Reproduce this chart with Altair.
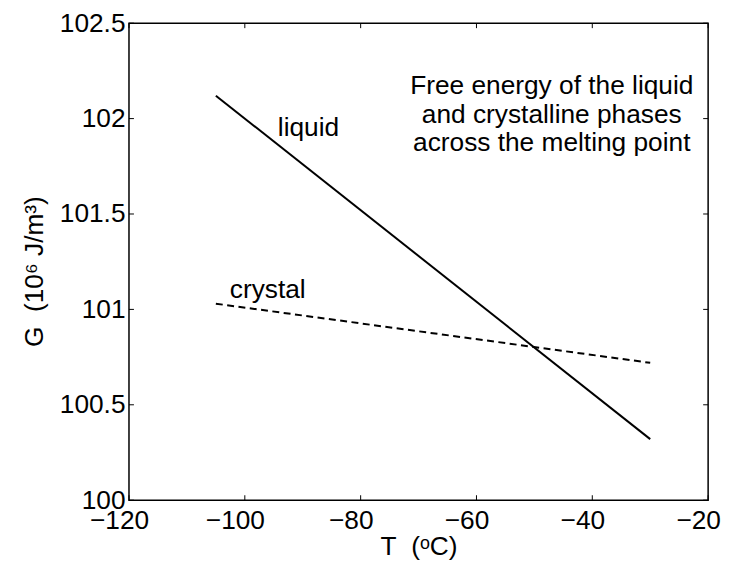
import altair as alt
import pandas as pd

# Data
T_liquid = [-105, -30]
G_liquid = [102.12, 100.32]
T_crystal = [-105, -30]
G_crystal = [101.03, 100.72]

label_text = ["liquid", "crystal"]
label_T = [-94.3, -102.6]
label_G = [101.91, 101.06]

note_text = ["Free energy of the liquid", "and crystalline phases", "across the melting point"]
note_T = [-47.0]
note_G = [102.13]

x_ticks = [-120, -100, -80, -60, -40, -20]
y_ticks = [100, 100.5, 101, 101.5, 102, 102.5]

x_title = "T\u00a0\u00a0(ᵒC)"
y_title = "G\u00a0\u00a0(10⁶ J/m³)"

FONT = "Liberation Sans"
FS = 26.5
W, H = 584, 481

liq = pd.DataFrame({"T": T_liquid, "G": G_liquid})
cry = pd.DataFrame({"T": T_crystal, "G": G_crystal})
lab = pd.DataFrame({"T": label_T, "G": label_G, "t": label_text})
note = pd.DataFrame({"T": note_T, "G": note_G, "t": [note_text]})
xt = pd.DataFrame({"T": x_ticks})
yt = pd.DataFrame({"G": y_ticks})

xscale = alt.Scale(domain=[-120, -20], nice=False, zero=False)
yscale = alt.Scale(domain=[100, 102.5], nice=False, zero=False)

xaxis = alt.Axis(values=x_ticks, format="d", grid=False, domain=False, ticks=False,
                 labelPadding=8, tickOffset=-10, labelFlush=False, labelOverlap=False,
                 title=x_title, titleY=55, titleBaseline="alphabetic",
                 titleFontWeight="normal")
yaxis = alt.Axis(values=y_ticks, format=".1~f", grid=False, domain=False, ticks=False,
                 labelPadding=4, labelFlush=False, labelOverlap=False,
                 title=y_title, titleX=-87, titleY=250,
                 titleBaseline="alphabetic", titleAlign="center", titleAngle=270,
                 titleFontWeight="normal")

X = alt.X("T:Q", scale=xscale, axis=xaxis)
Y = alt.Y("G:Q", scale=yscale, axis=yaxis)

line_liq = alt.Chart(liq).mark_line(color="black", strokeWidth=2).encode(x=X, y=Y)
line_cry = alt.Chart(cry).mark_line(color="black", strokeWidth=2,
                                    strokeDash=[7, 4.5]).encode(x=X, y=Y)
labels = alt.Chart(lab).mark_text(font=FONT, fontSize=FS, align="left",
                                  baseline="alphabetic", color="black").encode(
    x=X, y=Y, text="t:N")
notes = alt.Chart(note).mark_text(font=FONT, fontSize=FS, align="center",
                                  baseline="alphabetic", lineHeight=29,
                                  color="black").encode(x=X, y=Y, text="t")

tick_len = 5
left_t = alt.Chart(yt).mark_rule(color="black", strokeWidth=1).encode(
    y=Y, x=alt.value(0), x2=alt.value(tick_len))
right_t = alt.Chart(yt).mark_rule(color="black", strokeWidth=1).encode(
    y=Y, x=alt.value(W - tick_len), x2=alt.value(W))
bottom_t = alt.Chart(xt).mark_rule(color="black", strokeWidth=1).encode(
    x=X, y=alt.value(H - tick_len), y2=alt.value(H))
top_t = alt.Chart(xt).mark_rule(color="black", strokeWidth=1).encode(
    x=X, y=alt.value(0), y2=alt.value(tick_len))

chart = alt.layer(
    line_liq, line_cry, labels, notes, left_t, right_t, bottom_t, top_t
).properties(
    width=W, height=H,
    autosize=alt.AutoSizeParams(type="none"),
    padding={"left": 122, "top": 13, "right": 15, "bottom": 60},
    background="white",
).configure_view(
    stroke="black", strokeWidth=1.5
).configure_axis(
    labelFont=FONT, labelFontSize=FS, labelColor="black",
    titleFont=FONT, titleFontSize=FS, titleColor="black",
)

chart.save("out.html", embed_options={"renderer": "svg", "actions": False})
